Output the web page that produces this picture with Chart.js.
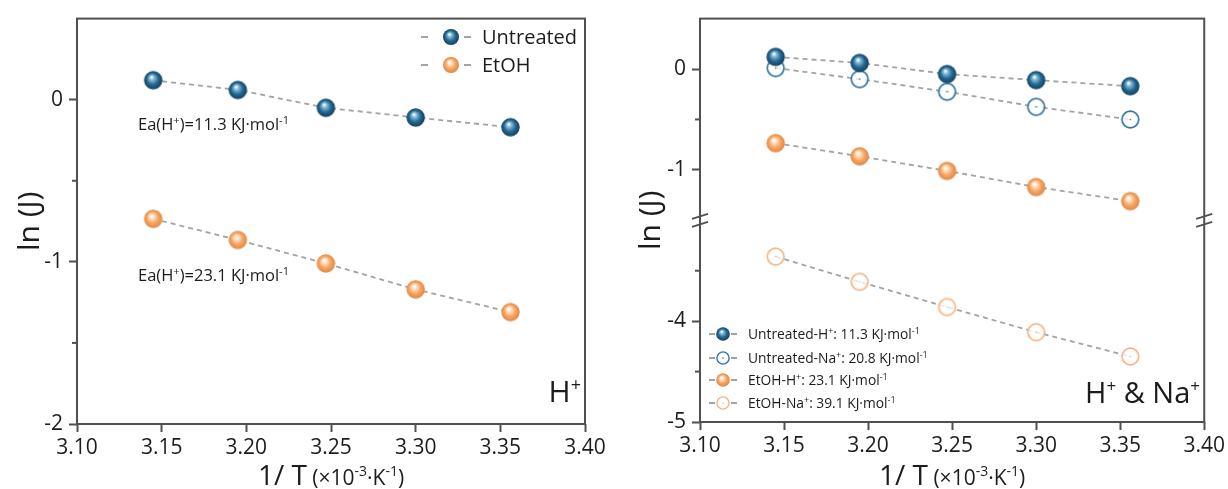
<!DOCTYPE html>
<html><head><meta charset="utf-8">
<script src="https://cdn.jsdelivr.net/npm/chart.js@4"></script>
<style>
html,body{margin:0;padding:0;background:#fff;}
#wrap{position:relative;width:1228px;height:489px;overflow:hidden;}
canvas{position:absolute;top:0;}
</style></head><body>
<div id="wrap">
<canvas id="c1" width="614" height="489" style="left:0;width:614px;height:489px"></canvas>
<canvas id="c2" width="614" height="489" style="left:614px;width:614px;height:489px"></canvas>
</div>
<script>
// ---- data ----
const xValues     = [3.145, 3.195, 3.247, 3.300, 3.356];
const untreatedH  = [0.12, 0.06, -0.05, -0.11, -0.17];
const etohH       = [-0.735, -0.865, -1.01, -1.17, -1.31];
const untreatedNa = [0.01, -0.10, -0.225, -0.375, -0.50];
const etohNa      = [-3.36, -3.61, -3.86, -4.11, -4.35];

const xTicks      = [3.10, 3.15, 3.20, 3.25, 3.30, 3.35, 3.40];
const xTickLabels = ['3.10', '3.15', '3.20', '3.25', '3.30', '3.35', '3.40'];
const leftYTicks  = [0, -0.5, -1, -1.5, -2];
const leftYLabels = ['0', '', '-1', '', '-2'];
const rightYTicks  = [0, -0.5, -1, -3.5, -4, -4.5, -5];
const rightYLabels = ['0', '', '-1', '', '-4', '', '-5'];
const leftLegend  = ['Untreated', 'EtOH'];
const rightLegend = [
  ['Untreated-H', '+', ': 11.3 KJ·mol', '-1'],
  ['Untreated-Na', '+', ': 20.8 KJ·mol', '-1'],
  ['EtOH-H', '+', ': 23.1 KJ·mol', '-1'],
  ['EtOH-Na', '+', ': 39.1 KJ·mol', '-1']
];
// axis break on right panel: values between breakLow and breakHigh are cut out
const breakHigh = -1.5, breakLow = -3;

// ---- styling helpers ----
const FAMILY = "'Open Sans', 'DejaVu Sans', sans-serif";
const AXIS = '#505050';
const TEXT = '#1c1c1c';
const LINE = '#a3a3a3';

function ball(base, dark, light, r) {
  const s = Math.ceil(2 * r + 2);
  const c = document.createElement('canvas'); c.width = c.height = s;
  const g = c.getContext('2d'); const cx = s / 2, cy = s / 2;
  const grad = g.createRadialGradient(cx - r * 0.2, cy - r * 0.35, r * 0.05, cx, cy, r);
  grad.addColorStop(0, '#ffffff');
  grad.addColorStop(0.2, light);
  grad.addColorStop(0.6, base);
  grad.addColorStop(1, dark);
  g.fillStyle = grad; g.beginPath(); g.arc(cx, cy, r, 0, Math.PI * 2); g.fill();
  return c;
}
function ring(color, r, lw) {
  const s = Math.ceil(2 * r + 2);
  const c = document.createElement('canvas'); c.width = c.height = s;
  const g = c.getContext('2d'); const cx = s / 2, cy = s / 2;
  g.fillStyle = 'rgba(255,255,255,0.75)';
  g.beginPath(); g.arc(cx, cy, r - lw / 2, 0, Math.PI * 2); g.fill();
  g.strokeStyle = color; g.lineWidth = lw; g.stroke();
  g.fillStyle = color; g.beginPath(); g.arc(cx, cy, 0.8, 0, Math.PI * 2); g.fill();
  return c;
}
const BLUE = ['#256a92', '#123f5e', '#8cc0de'];
const ORANGE = ['#f6a565', '#e3883f', '#ffe4c9'];
const blueBall   = ball(BLUE[0], BLUE[1], BLUE[2], 9.2);
const orangeBall = ball(ORANGE[0], ORANGE[1], ORANGE[2], 9.2);
const blueRing   = ring('#3576a0', 9.2, 1.7);
const orangeRing = ring('#f4b586', 9.2, 1.7);
const blueBallS   = ball(BLUE[0], BLUE[1], BLUE[2], 6.8);
const orangeBallS = ball(ORANGE[0], ORANGE[1], ORANGE[2], 6.8);
const blueRingS   = ring('#3576a0', 6.8, 1.4);
const orangeRingS = ring('#f4b586', 6.8, 1.4);
const blueBallL   = ball(BLUE[0], BLUE[1], BLUE[2], 8);
const orangeBallL = ball(ORANGE[0], ORANGE[1], ORANGE[2], 8);

const breakShift = breakLow - breakHigh; // -1.5
function tfRight(v) { return v <= breakLow ? v - breakShift : v; }
function ident(v) { return v; }

function ds(label, ys, style, tf) {
  return {
    label,
    data: xValues.map((x, i) => ({ x, y: tf(ys[i]) })),
    showLine: true, borderColor: LINE, borderWidth: 1.8, borderDash: [5, 4],
    pointStyle: style, pointRadius: 9, fill: false, tension: 0
  };
}

function xScale(h) {
  return {
    type: 'linear', min: 3.10, max: 3.40,
    afterBuildTicks: s => { s.ticks = xTicks.map(v => ({ value: v })); },
    afterFit: s => { s.height = h; },
    ticks: { callback: (v, i) => xTickLabels[i], font: { size: 21, family: FAMILY }, color: TEXT, padding: 3, autoSkip: false, maxRotation: 0 },
    grid: { drawOnChartArea: false, tickLength: 8, tickWidth: 2, color: AXIS },
    border: { display: false }
  };
}
function yScale(w, min, max, vals, labels) {
  return {
    type: 'linear', min, max,
    afterBuildTicks: s => { s.ticks = vals.map(v => ({ value: v })); },
    afterFit: s => { s.width = w; },
    ticks: { callback: (v, i) => labels[i], font: { size: 21, family: FAMILY }, color: TEXT, padding: 6, autoSkip: false },
    grid: {
      drawOnChartArea: false, tickLength: 8, tickWidth: 2,
      color: c => (c.index !== undefined && labels[c.index] === '') ? 'rgba(0,0,0,0)' : AXIS
    },
    border: { display: false }
  };
}

function drawRich(ctx, parts, x, y, align, color) {
  ctx.save();
  ctx.fillStyle = color || TEXT; ctx.textBaseline = 'alphabetic'; ctx.textAlign = 'left';
  const widths = parts.map(p => { ctx.font = p[1] + 'px ' + FAMILY; return ctx.measureText(p[0]).width; });
  const total = widths.reduce((a, b) => a + b, 0);
  let cx = align === 'center' ? x - total / 2 : align === 'right' ? x - total : x;
  parts.forEach((p, i) => { ctx.font = p[1] + 'px ' + FAMILY; ctx.fillText(p[0], cx, y - (p[2] || 0)); cx += widths[i]; });
  ctx.restore();
}

function drawCommon(chart, minorVals, yTitleX) {
  const ctx = chart.ctx, a = chart.chartArea, ys = chart.scales.y;
  ctx.save();
  ctx.strokeStyle = AXIS; ctx.lineWidth = 2;
  ctx.strokeRect(a.left, a.top, a.right - a.left, a.bottom - a.top);
  minorVals.forEach(v => {
    const y = ys.getPixelForValue(v);
    ctx.beginPath(); ctx.moveTo(a.left - 5, y); ctx.lineTo(a.left, y); ctx.stroke();
  });
  ctx.restore();
  // y title
  ctx.save();
  ctx.translate(yTitleX, (a.top + a.bottom) / 2);
  ctx.rotate(-Math.PI / 2);
  drawRich(ctx, [['ln (J)', 30, 0]], 0, 10, 'center');
  ctx.restore();
  // x title
  drawRich(ctx, [['1/ T', 28, 0], [' (×10', 21, 0], ['-3', 14, 9], ['·K', 21, 0], ['-1', 14, 9], [')', 21, 0]],
    (a.left + a.right) / 2, 485, 'center');
}

function legendRow(ctx, mx, y, img, d1, d2) {
  ctx.save();
  ctx.strokeStyle = LINE; ctx.lineWidth = 1.8;
  ctx.beginPath(); ctx.moveTo(d1[0], y); ctx.lineTo(d1[1], y); ctx.moveTo(d2[0], y); ctx.lineTo(d2[1], y); ctx.stroke();
  ctx.drawImage(img, mx - img.width / 2, y - img.height / 2);
  ctx.restore();
}

function drawLeft(chart) {
  const ctx = chart.ctx;
  drawCommon(chart, [-0.5, -1.5], 29);
  // legend
  const imgs = [blueBallL, orangeBallL];
  const rows = [37, 65];
  leftLegend.forEach((t, i) => {
    legendRow(ctx, 451, rows[i], imgs[i], [421, 428], [464, 471]);
    drawRich(ctx, [[t, 20, 0]], 482, rows[i] + 7, 'left');
  });
  // annotations
  drawRich(ctx, [['Ea(H', 16.5, 0], ['+', 11, 6], [')=11.3 KJ·mol', 16.5, 0], ['-1', 11, 6]], 138, 130, 'left');
  drawRich(ctx, [['Ea(H', 16.5, 0], ['+', 11, 6], [')=23.1 KJ·mol', 16.5, 0], ['-1', 11, 6]], 138, 281, 'left');
  // panel label
  drawRich(ctx, [['H', 30, 0], ['+', 18, 11]], 581, 402, 'right');
}

function drawRight(chart) {
  const ctx = chart.ctx, a = chart.chartArea, ys = chart.scales.y;
  drawCommon(chart, [tfRight(-0.5), tfRight(-3.5), tfRight(-4.5)], 36);
  // axis break marks
  const yb = ys.getPixelForValue(breakHigh);
  ctx.save();
  ctx.strokeStyle = AXIS; ctx.lineWidth = 1.8;
  [a.left, a.right].forEach(x => {
    [-4, 4].forEach(off => {
      ctx.beginPath(); ctx.moveTo(x - 8, yb + off + 2.5); ctx.lineTo(x + 8, yb + off - 2.5); ctx.stroke();
    });
  });
  ctx.restore();
  // legend
  const imgs = [blueBallS, blueRingS, orangeBallS, orangeRingS];
  const rows = [334, 358, 380, 403];
  rightLegend.forEach((p, i) => {
    legendRow(ctx, 109, rows[i], imgs[i], [95, 101], [117, 123]);
    drawRich(ctx, [[p[0], 13.8, 0], [p[1], 9, 5], [p[2], 13.8, 0], [p[3], 9, 5]], 134, rows[i] + 5, 'left');
  });
  // panel label
  drawRich(ctx, [['H', 29, 0], ['+', 17, 11], [' & Na', 29, 0], ['+', 17, 11]], 586, 403, 'right');
}

Chart.defaults.font.family = FAMILY;

new Chart(document.getElementById('c1'), {
  type: 'scatter',
  data: { datasets: [
    ds('Untreated', untreatedH, blueBall, ident),
    ds('EtOH', etohH, orangeBall, ident)
  ] },
  options: {
    responsive: false, animation: false, events: [],
    layout: { padding: { left: 0, right: 29, top: 15, bottom: 0 } },
    plugins: { legend: { display: false }, tooltip: { enabled: false } },
    scales: { x: xScale(65), y: yScale(77, -2, 0.5, leftYTicks, leftYLabels) }
  },
  plugins: [{ id: 'decoL', afterDraw: drawLeft }]
});

new Chart(document.getElementById('c2'), {
  type: 'scatter',
  data: { datasets: [
    ds('Untreated-H⁺', untreatedH, blueBall, tfRight),
    ds('EtOH-H⁺', etohH, orangeBall, tfRight),
    ds('Untreated-Na⁺', untreatedNa, blueRing, tfRight),
    ds('EtOH-Na⁺', etohNa, orangeRing, tfRight)
  ] },
  options: {
    responsive: false, animation: false, events: [],
    layout: { padding: { left: 0, right: 23, top: 15, bottom: 0 } },
    plugins: { legend: { display: false }, tooltip: { enabled: false } },
    scales: { x: xScale(67), y: yScale(86, tfRight(-5), 0.5, rightYTicks.map(tfRight), rightYLabels) }
  },
  plugins: [{ id: 'decoR', afterDraw: drawRight }]
});
</script>
</body></html>
